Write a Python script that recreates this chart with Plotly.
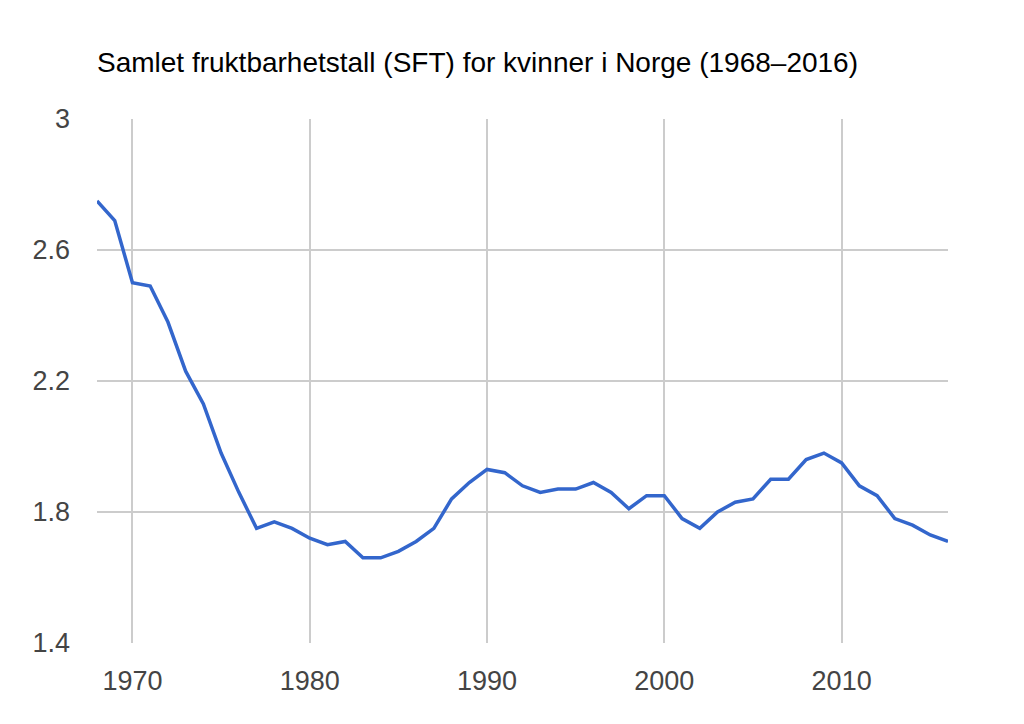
import plotly.graph_objects as go

years = list(range(1968, 2017))
sft = [2.75, 2.69, 2.50, 2.49, 2.38, 2.23, 2.13, 1.98, 1.86, 1.75,
       1.77, 1.75, 1.72, 1.70, 1.71, 1.66, 1.66, 1.68, 1.71, 1.75,
       1.84, 1.89, 1.93, 1.92, 1.88, 1.86, 1.87, 1.87, 1.89, 1.86,
       1.81, 1.85, 1.85, 1.78, 1.75, 1.80, 1.83, 1.84, 1.90, 1.90,
       1.96, 1.98, 1.95, 1.88, 1.85, 1.78, 1.76, 1.73, 1.71]
x_ticks = [1970, 1980, 1990, 2000, 2010]
y_ticks = [1.4, 1.8, 2.2, 2.6, 3]
y_tick_text = ["1.4", "1.8", "2.2", "2.6", "3"]

fig = go.Figure(
    data=go.Scatter(
        x=years,
        y=sft,
        mode="lines",
        line=dict(color="#3366cc", width=3.5),
        showlegend=False,
    )
)

# page has an 8px body margin, so everything is shifted up/left by 8
fig.update_layout(
    width=1024,
    height=724,
    paper_bgcolor="white",
    plot_bgcolor="white",
    margin=dict(l=89, r=84, t=111, b=89),
    font=dict(family="Liberation Sans, Arial, sans-serif", size=27, color="#444444"),
    title=dict(
        text="Samlet fruktbarhetstall (SFT) for kvinner i Norge (1968–2016)",
        x=89 / 1024,
        xanchor="left",
        y=1 - 54 / 724,
        yanchor="middle",
        font=dict(size=28, color="#000000"),
    ),
    xaxis=dict(
        range=[1968, 2016],
        tickvals=x_ticks,
        showgrid=True,
        gridcolor="#cccccc",
        gridwidth=2,
        zeroline=False,
        showline=False,
        ticks="",
        ticklabelstandoff=19,
    ),
    yaxis=dict(
        range=[1.4, 3],
        tickvals=y_ticks,
        ticktext=y_tick_text,
        showgrid=True,
        gridcolor="#cccccc",
        gridwidth=2,
        zeroline=False,
        showline=False,
        ticks="",
        ticklabelstandoff=26,
    ),
)

fig.write_html("out.html")
